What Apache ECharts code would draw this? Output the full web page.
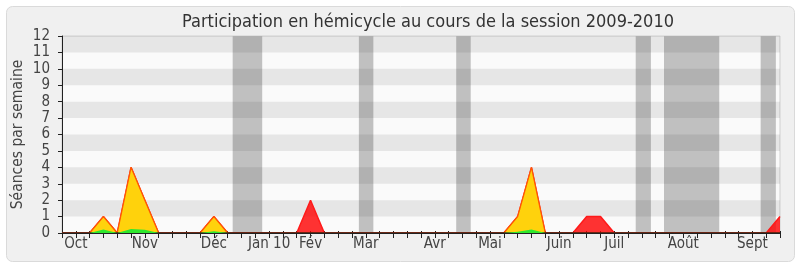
<!DOCTYPE html>
<html>
<head>
<meta charset="utf-8">
<script src="https://cdn.jsdelivr.net/npm/echarts@6/dist/echarts.min.js"></script>
<style>html,body{margin:0;padding:0;background:#fff}#c{width:800px;height:267px}</style>
</head>
<body>
<div id="c"></div>
<script>
// Weeks of the session (index 0..52)
var weeks = [];
for (var i = 0; i <= 52; i++) weeks.push(i);
// Séances par semaine (red), présences (yellow), interventions (green)
var seances =      [0,0,0,1,0,4,2,0,0,0,0,1,0,0,0,0,0,0,2,0,0,0,0,0,0,0,0,0,0,0,0,0,0,1,4,0,0,0,1,1,0,0,0,0,0,0,0,0,0,0,0,0,1];
var presences =    [0,0,0,1,0,4,2,0,0,0,0,1,0,0,0,0,0,0,0,0,0,0,0,0,0,0,0,0,0,0,0,0,0,1,4,0,0,0,0,0,0,0,0,0,0,0,0,0,0,0,0,0,0];
var interventions= [0,0,0,0.22,0,0.24,0.2,0,0,0,0,0.1,0,0,0,0,0,0,0,0,0,0,0,0,0,0,0,0,0,0,0,0,0,0.08,0.22,0,0,0,0,0,0,0,0,0,0,0,0,0,0,0,0,0,0];
// Month tick labels and the week index they sit on
var monthLabels = ['Oct','Nov','Déc','Jan 10','Fév','Mar','Avr','Mai','Juin','Juil','Août','Sept'];
var monthWeeks  = [1,6,11,15,18,22,27,31,36,40,45,50];
// Vacation periods (in week units)
var vacations = [[12.36,14.5],[21.5,22.55],[28.55,29.6],[41.55,42.65],[43.6,47.6],[50.6,51.7]];
// Y ticks
var yMin = 0, yMax = 12;

function pairs(arr){ return weeks.map(function(w,i){ return [w, arr[i]]; }); }

var FONT = '"DejaVu Sans Condensed", "DejaVu Sans"';
var chart = echarts.init(document.getElementById('c'));

var stripes = [];
for (var s = 1; s < yMax; s += 2) stripes.push([{yAxis: s}, {yAxis: s + 1}]);

var option = {
  animation: false,
  backgroundColor: '#ffffff',
  graphic: [{
    type: 'rect', z: -10, silent: true,
    shape: {x: 6.5, y: 6.5, width: 788, height: 255, r: 6},
    style: {fill: '#f0f0f0', stroke: '#dadada', lineWidth: 1}
  }],
  title: {
    text: 'Participation en hémicycle au cours de la session 2009-2010',
    left: 423, top: 8, textAlign: 'center',
    textStyle: {fontFamily: FONT, fontSize: 18, fontWeight: 'normal', color: '#333'}
  },
  grid: {left: 62, right: 20, top: 36, bottom: 34, outerBoundsMode: 'none', containLabel: false,
    show: true, backgroundColor: '#fafafa', borderColor: '#d0d0d0', borderWidth: 1},
  xAxis: [{
    type: 'value', min: 0, max: 52, interval: 1, z: 10,
    axisLine: {show: true, onZero: false, lineStyle: {color: '#222', width: 1}},
    axisTick: {show: true, length: 5, lineStyle: {color: '#222'}},
    splitLine: {show: false},
    axisLabel: {
      margin: 4, fontFamily: FONT, fontSize: 15, color: '#444',
      formatter: function(v){ var k = monthWeeks.indexOf(Math.round(v)); return (k >= 0 && Math.abs(v - Math.round(v)) < 1e-6) ? monthLabels[k] : ''; }
    }
  }, {
    type: 'value', min: 0, max: 52, interval: 1, position: 'top',
    axisLine: {show: false},
    axisTick: {show: true, length: 2, lineStyle: {color: '#222'}},
    axisLabel: {show: false}, splitLine: {show: false}
  }],
  yAxis: {
    type: 'value', min: yMin, max: yMax, interval: 1,
    name: 'Séances par semaine', nameLocation: 'middle', nameGap: 36, nameMoveOverlap: false,
    nameTextStyle: {fontFamily: FONT, fontSize: 15.5, color: '#444'},
    axisLine: {show: true, lineStyle: {color: '#222'}},
    axisTick: {show: true, length: 4, lineStyle: {color: '#222'}},
    axisLabel: {margin: 12, fontFamily: FONT, fontSize: 15, color: '#444'},
    splitLine: {show: false}
  },
  series: [
    {
      type: 'line', name: 'vacances', data: [], z: 1, silent: true,
      markArea: {silent: true, itemStyle: {color: '#c0c0c0'},
        data: vacations.map(function(v){ return [{xAxis: v[0]}, {xAxis: v[1]}]; })}
    },
    {
      type: 'line', name: 'stripes', data: [], z: 1.5, silent: true,
      markArea: {silent: true, itemStyle: {color: 'rgba(0,0,0,0.08)'}, data: stripes}
    },
    {
      type: 'line', name: 'Séances', data: pairs(seances), z: 3, symbol: 'none',
      lineStyle: {color: '#ff1a1a', width: 1.5},
      areaStyle: {color: 'rgba(255,0,0,0.8)', opacity: 1}
    },
    {
      type: 'line', name: 'Présences', data: pairs(presences), z: 4, symbol: 'none',
      lineStyle: {color: '#ff5a00', width: 1.2},
      areaStyle: {color: '#ffd20c', opacity: 1}
    },
    {
      type: 'line', name: 'Interventions', data: pairs(interventions), z: 5, symbol: 'none',
      lineStyle: {width: 0},
      areaStyle: {color: '#2ee82e', opacity: 1},
      markLine: {silent: true, symbol: 'none', label: {show: false},
        lineStyle: {color: '#3a1a10', width: 1.5, type: 'solid'}, data: [{yAxis: 0}]}
    }
  ]
};
chart.setOption(option);
</script>
</body>
</html>
